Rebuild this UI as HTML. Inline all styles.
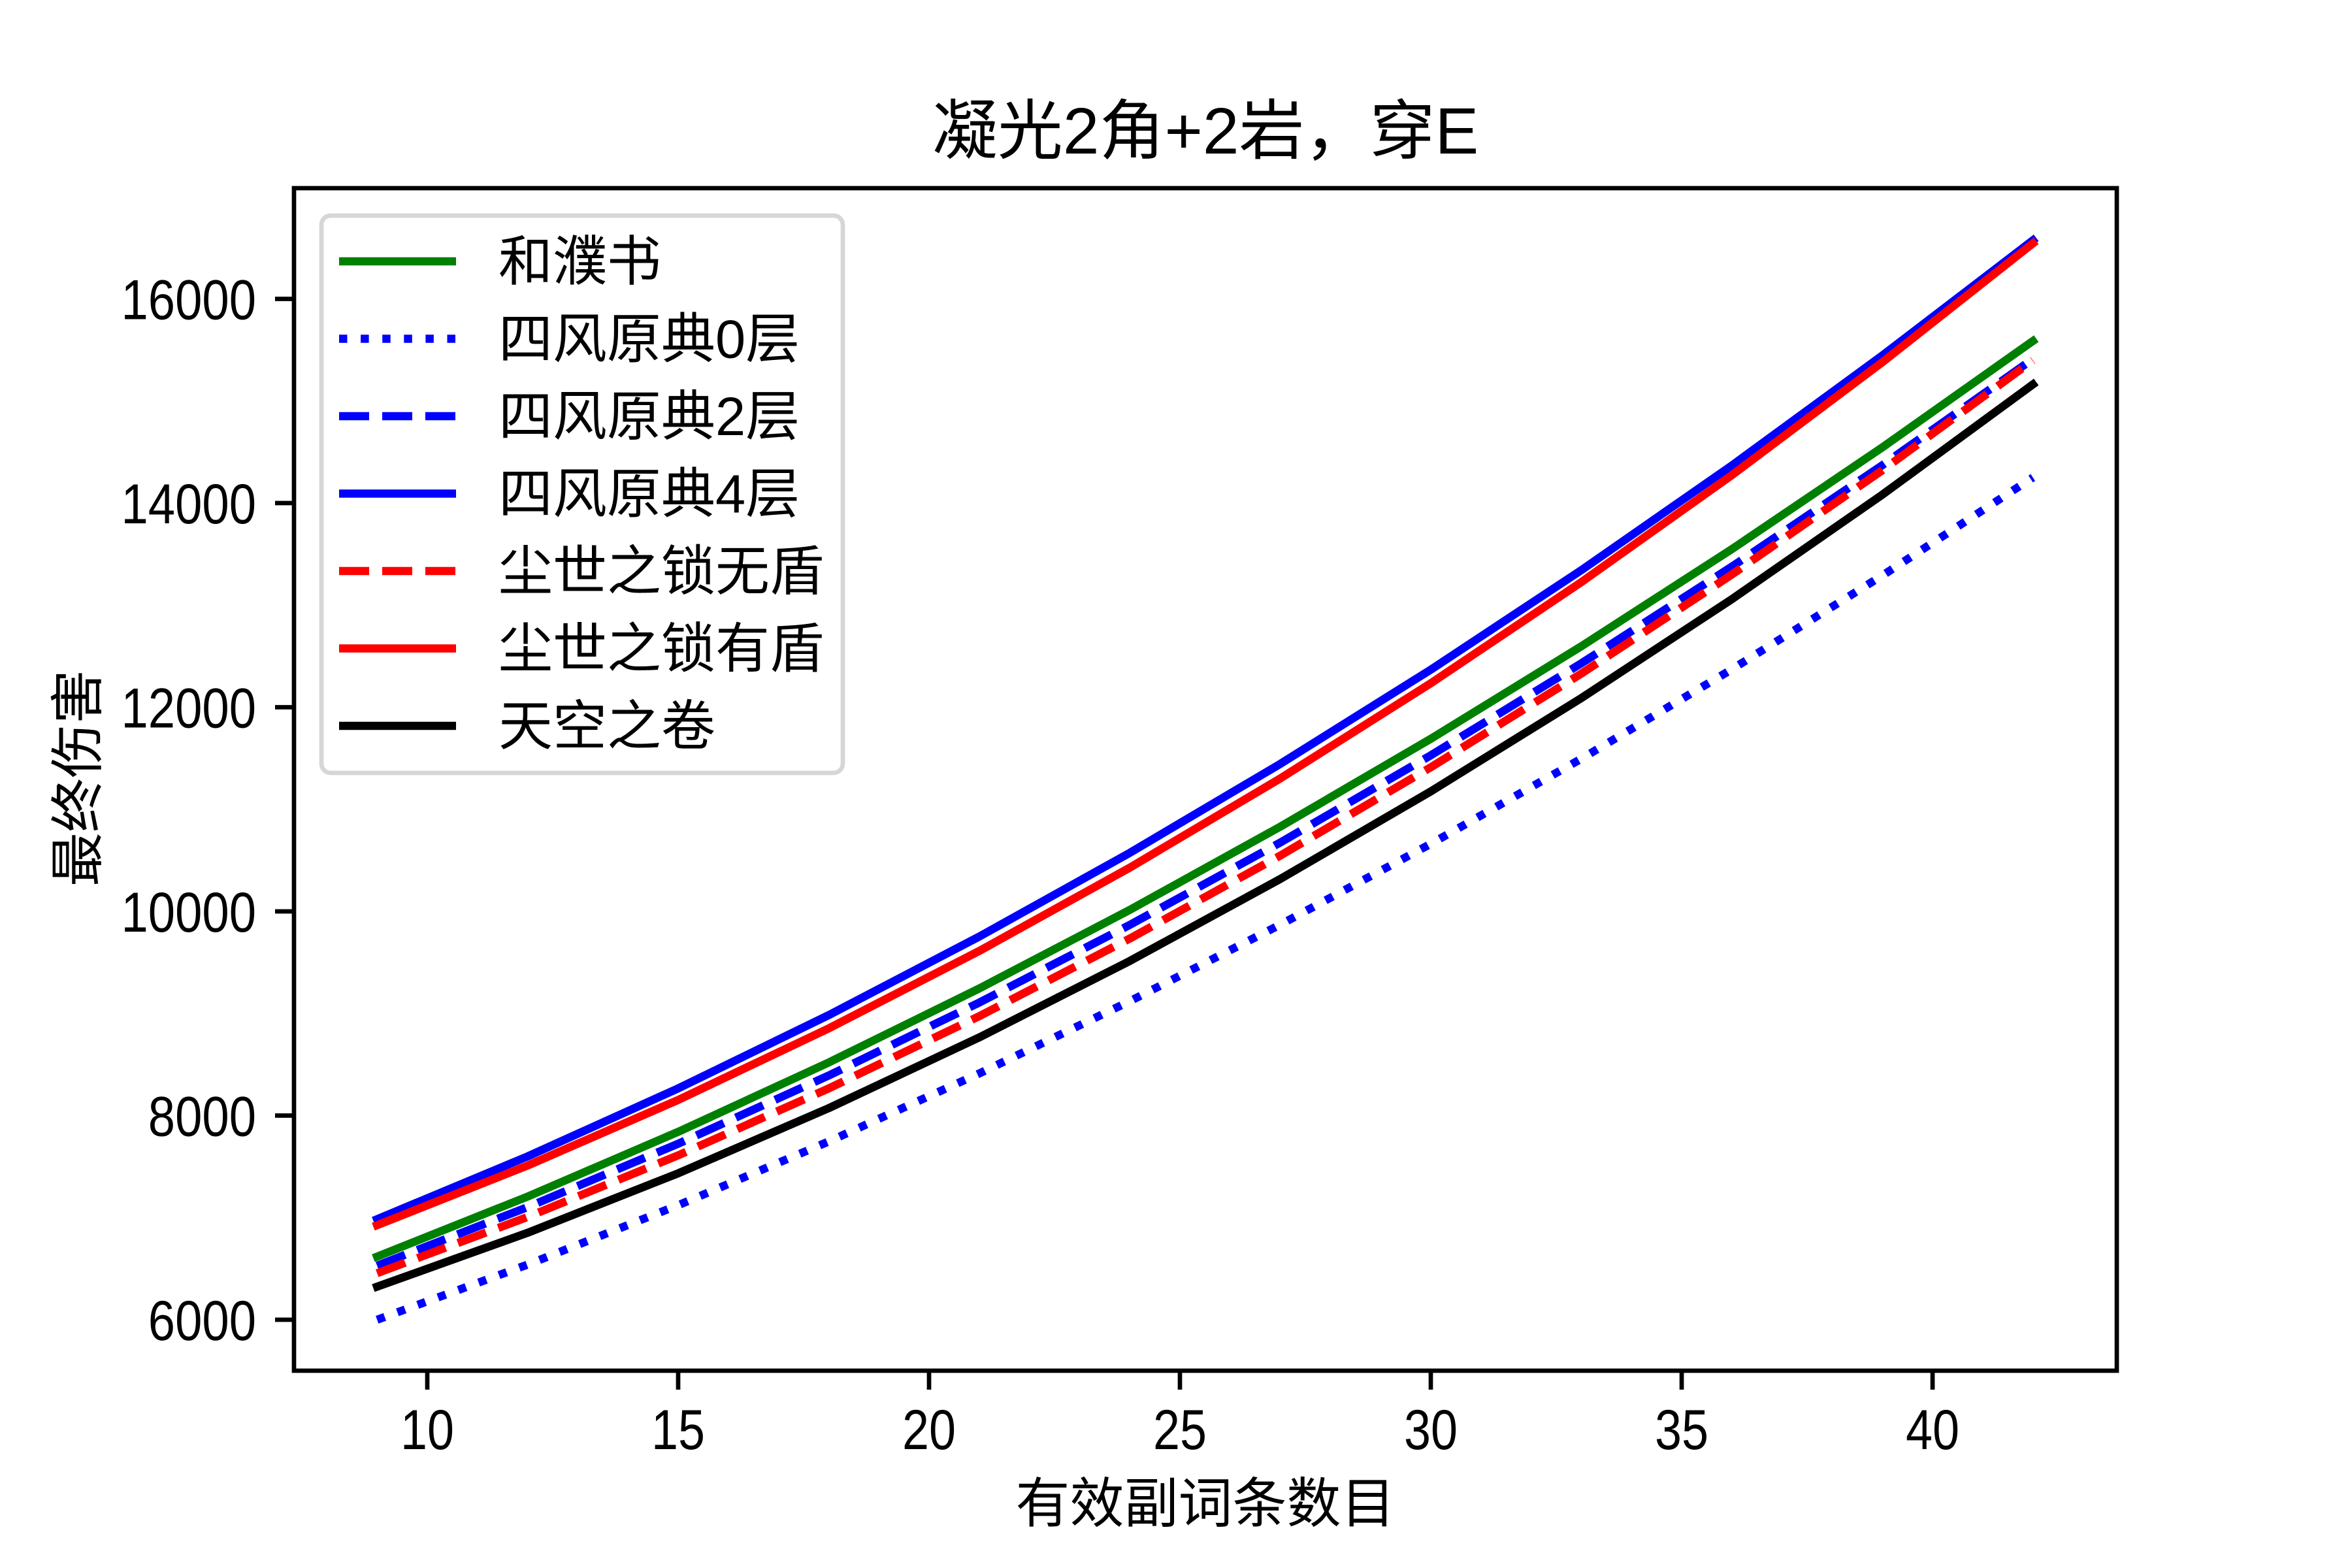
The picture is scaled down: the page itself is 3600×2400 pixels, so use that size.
<!DOCTYPE html>
<html><head><meta charset="utf-8">
<style>
html,body{margin:0;padding:0;background:#fff;}
svg{display:block;}
text{font-family:"Liberation Sans","Noto Sans CJK SC",sans-serif;fill:#000;}
</style></head>
<body>
<svg id="s" width="3600" height="2400" viewBox="0 0 3600 2400" xmlns="http://www.w3.org/2000/svg">
<rect width="3600" height="2400" fill="#fff"/>
<g id="series"></g>
<rect x="450" y="288" width="2790" height="1810" fill="none" stroke="#000" stroke-width="6.7"/>
<g stroke="#000" stroke-width="6.7" id="ticks"></g>
<g font-size="86" text-anchor="end" id="ylab"></g>
<g font-size="86" text-anchor="middle" id="xlab"></g>
<text x="1845" y="235" font-size="100" text-anchor="middle" font-family="Noto Sans CJK SC, sans-serif">凝光2角+2岩，穿E</text>
<text x="1845" y="2330" font-size="83" text-anchor="middle" font-family="Noto Sans CJK SC, sans-serif">有效副词条数目</text>
<text transform="translate(148,1191) rotate(-90)" font-size="83" text-anchor="middle" font-family="Noto Sans CJK SC, sans-serif">最终伤害</text>
<rect x="492" y="330" width="798" height="853" rx="14" fill="#fff" fill-opacity="0.8" stroke="#d6d6d6" stroke-width="6.7"/>
<g id="legend" font-size="83" font-family="Noto Sans CJK SC, sans-serif"></g>
</svg>
<script>
var px=function(x){return 654+(x-10)*76.8;};
var py=function(v){return 2020-(v-6000)*0.15625;};
var S=[
 {n:"和濮书",c:"#008000",d:"",p:[6618,11691,15588]},
 {n:"四风原典0层",c:"#0000ff",d:"12.5,20.6",p:[6000,10662,14250]},
 {n:"四风原典2层",c:"#0000ff",d:"46,20",p:[6529,11529,15412]},
 {n:"四风原典4层",c:"#0000ff",d:"",p:[6985,12368,16574]},
 {n:"尘世之锁无盾",c:"#ff0000",d:"46,20",p:[6456,11412,15397]},
 {n:"尘世之锁有盾",c:"#ff0000",d:"",p:[6926,12235,16544]},
 {n:"天空之卷",c:"#000000",d:"",p:[6324,11176,15162]}
];
var NS="http://www.w3.org/2000/svg";
function el(t,a,par){var e=document.createElementNS(NS,t);for(var k in a)e.setAttribute(k,a[k]);par.appendChild(e);return e;}
var g=document.getElementById("series");
S.forEach(function(s){
 var f0=s.p[0],f1=s.p[1],f2=s.p[2];
 var c=((f2-f0)/33-(f1-f0)/21)/(33-21);
 var b=(f1-f0)/21-21*c;
 var pts=[];
 for(var x=9;x<=42;x+=3){var u=x-9;pts.push(px(x).toFixed(1)+","+py(f0+b*u+c*u*u).toFixed(1));}
 var a={points:pts.join(" "),fill:"none",stroke:s.c,"stroke-width":12.5,"stroke-linejoin":"round"};
 if(s.d){a["stroke-dasharray"]=s.d;a["stroke-linecap"]="butt";}else a["stroke-linecap"]="square";
 el("polyline",a,g);
});
var tk=document.getElementById("ticks"),yl=document.getElementById("ylab"),xl=document.getElementById("xlab");
for(var v=6000;v<=16000;v+=2000){var y=py(v);el("line",{x1:421,x2:450,y1:y,y2:y},tk);var s=String(v);var t=el("text",{x:392,y:y+31,textLength:s.length*41.3,lengthAdjust:"spacingAndGlyphs"},yl);t.textContent=s;}
for(var x=10;x<=40;x+=5){var X=px(x);el("line",{x1:X,x2:X,y1:2098,y2:2127},tk);var t=el("text",{x:X,y:2218,textLength:82,lengthAdjust:"spacingAndGlyphs"},xl);t.textContent=x;}
var lg=document.getElementById("legend");
S.forEach(function(s,i){
 var y=400+i*118.5;
 var a={x1:519,x2:698,y1:y,y2:y,stroke:s.c,"stroke-width":12.5};
 if(s.d)a["stroke-dasharray"]=s.d;
 el("line",a,lg);
 var t=el("text",{x:763,y:y+29},lg);t.textContent=s.n;
});
</script>
</body></html>
